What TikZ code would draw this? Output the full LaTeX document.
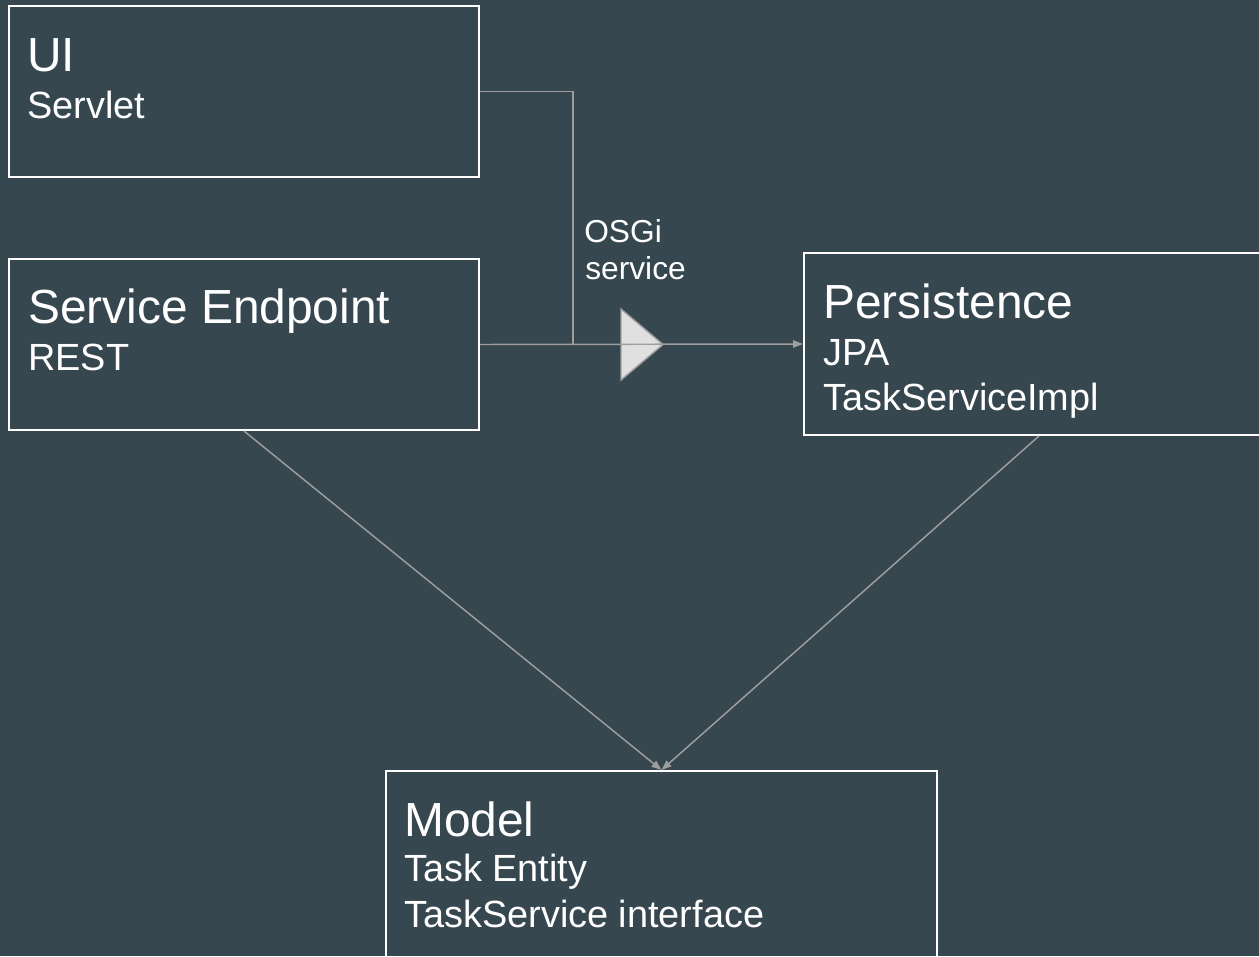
\documentclass[tikz,border=0pt]{standalone}
\usepackage{fontspec}
\setmainfont{Liberation Sans}
\usetikzlibrary{arrows.meta}
\definecolor{bg}{RGB}{55,71,79}
\definecolor{conn}{RGB}{158,158,158}
\definecolor{tri}{RGB}{224,224,224}
\begin{document}
\begin{tikzpicture}[x=0.75pt,y=-0.75pt,
  box/.style={draw=white,line width=1.5pt,rectangle,inner sep=0pt},
  ttl/.style={anchor=base west,inner sep=0pt,text=white,font=\fontsize{35.9}{40}\selectfont},
  sub/.style={anchor=base west,inner sep=0pt,text=white,font=\fontsize{28.4}{32}\selectfont},
  lbl/.style={anchor=base west,inner sep=0pt,text=white,font=\fontsize{23.8}{28}\selectfont},
  conn/.style={draw=conn,line width=1.1pt},
  arr/.style={conn,-{Triangle[length=7.5pt,width=5.5pt]}}]
\fill[bg] (0,0) rectangle (1259,956);
\useasboundingbox (0,0) rectangle (1259,956);
\clip (0,0) rectangle (1259,956);
% boxes
\node[box,minimum width=470*0.75pt,minimum height=171*0.75pt] (ui) at (244,91.5) {};
\node[box,minimum width=470*0.75pt,minimum height=171*0.75pt] (se) at (244,344.5) {};
\node[box,minimum width=470*0.75pt,minimum height=182*0.75pt] (pers) at (1039,344) {};
\node[box,minimum width=551*0.75pt,minimum height=220*0.75pt] (model) at (661.5,881) {};
% texts
\node[ttl] (uit) at (27,71) {UI};
\node[sub] (uis) at (27,118) {Servlet};
\node[ttl] (set) at (28,323) {Service Endpoint};
\node[sub] (ses) at (28,370) {REST};
\node[ttl] (perst) at (823,318) {Persistence};
\node[sub] (perss1) at (823,365) {JPA};
\node[sub] (perss2) at (823,410) {TaskServiceImpl};
\node[ttl] (modelt) at (404,836) {Model};
\node[sub] (models1) at (404,881) {Task Entity};
\node[sub] (models2) at (404,927) {TaskService interface};
\node[lbl] (osgi1) at (584,242) {OSGi};
\node[lbl] (osgi2) at (585,279) {service};
% connectors
\coordinate (j) at (573,344.5);
\draw[conn,fill=tri] (621,309) -- (663,344.5) -- (621,380) -- cycle;
\draw[conn] (ui.east) -| (j);
\draw[arr] (se.east) -- (pers.west);
\draw[arr] (se.south) -- (model.north);
\draw[arr] (pers.south) -- (model.north);
\end{tikzpicture}
\end{document}
